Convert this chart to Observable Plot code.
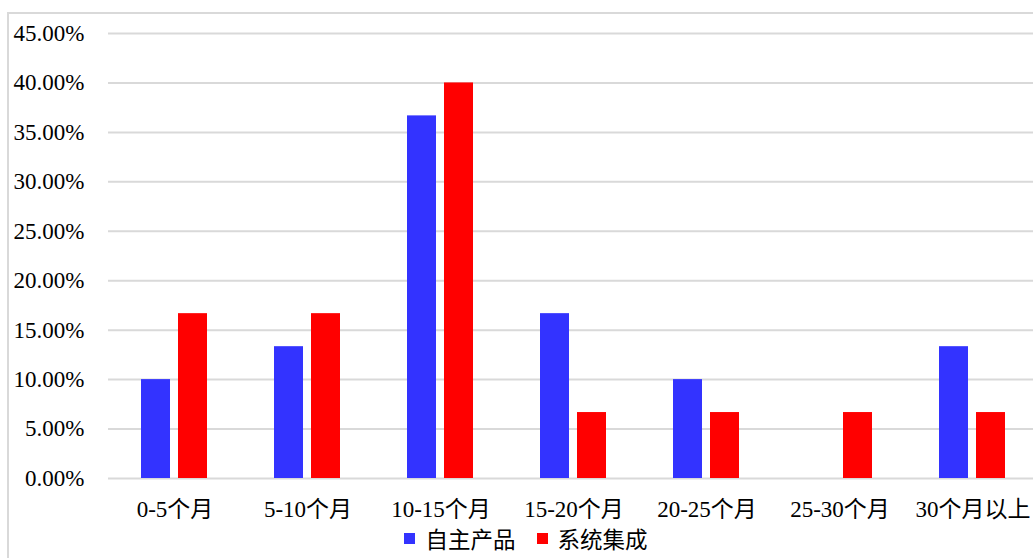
<!DOCTYPE html>
<html>
<head>
<meta charset="utf-8">
<script src="https://cdn.jsdelivr.net/npm/d3@7"></script>
<script src="https://cdn.jsdelivr.net/npm/@observablehq/plot@0.6"></script>
<style>
  html, body { margin: 0; padding: 0; background: #fff; overflow: hidden; width: 1033px; height: 558px; }
  #frame { position: absolute; left: 7px; top: 12px; width: 1060px; height: 600px; border-left: 2px solid #d9d9d9; border-top: 2px solid #d9d9d9; }
  #chart { position: absolute; left: 0; top: 0; width: 1100px; }
  #chart svg { max-width: none !important; font-family: "Liberation Serif", "Times New Roman", "Noto Sans CJK SC", serif !important; font-size: 23px !important; }
  #chart svg text, #chart svg g { font-family: "Liberation Serif", "Times New Roman", "Noto Sans CJK SC", serif !important; }
  #legend { position: absolute; left: 0; top: 522px; width: 1052px; display: flex; justify-content: center; align-items: center;
            font-family: "Liberation Serif", "Noto Sans CJK SC", serif; font-size: 22.5px; color: #000; }
  .item { display: flex; align-items: center; margin: 0 10.5px; }
  .sw { width: 11px; height: 11px; margin-right: 10px; }
</style>
</head>
<body>
<div id="frame"></div>
<div id="chart"></div>
<div id="legend"></div>
<script>
const categories = ["0-5个月", "5-10个月", "10-15个月", "15-20个月", "20-25个月", "25-30个月", "30个月以上"];
const seriesNames = ["自主产品", "系统集成"];
const ownProduct = [0.10, 0.1333, 0.3667, 0.1667, 0.10, 0, 0.1333];
const systemIntegration = [0.1667, 0.1667, 0.40, 0.0667, 0.0667, 0.0667, 0.0667];
const colors = ["#3333ff", "#ff0000"];
const yTicks = [0, 0.05, 0.10, 0.15, 0.20, 0.25, 0.30, 0.35, 0.40, 0.45];

const data = [];
categories.forEach((c, i) => {
  data.push({category: c, series: seriesNames[0], value: ownProduct[i]});
  data.push({category: c, series: seriesNames[1], value: systemIntegration[i]});
});

const fontStack = '"Liberation Serif", "Times New Roman", "Noto Sans CJK SC", serif';

const chart = Plot.plot({
  width: 1045,
  height: 520,
  marginLeft: 105,
  marginRight: 4,
  marginTop: 33,
  marginBottom: 42,
  style: {color: "#000", background: "transparent", overflow: "visible"},
  fx: {domain: categories, padding: 0, label: null, tickSize: 0, tickPadding: 22, axis: "bottom"},
  x: {domain: seriesNames, axis: null, paddingInner: 0.21, paddingOuter: 0.86},
  y: {domain: [0, 0.45], ticks: yTicks, tickFormat: d3.format(".2%"), tickSize: 0, tickPadding: 24, label: null},
  color: {domain: seriesNames, range: colors},
  marks: [
    Plot.ruleY(yTicks, {stroke: "#d9d9d9", strokeWidth: 2}),
    Plot.barY(data, {fx: "category", x: "series", y: "value", fill: "series"})
  ]
});
d3.select(chart).attr("font-family", fontStack).attr("font-size", 23);
d3.select(chart).selectAll("g, text").attr("font-family", fontStack);
document.getElementById("chart").appendChild(chart);

const legend = document.getElementById("legend");
seriesNames.forEach((s, i) => {
  const it = document.createElement("div");
  it.className = "item";
  const sw = document.createElement("div");
  sw.className = "sw";
  sw.style.background = colors[i];
  const t = document.createElement("span");
  t.textContent = s;
  it.appendChild(sw);
  it.appendChild(t);
  legend.appendChild(it);
});
</script>
</body>
</html>
